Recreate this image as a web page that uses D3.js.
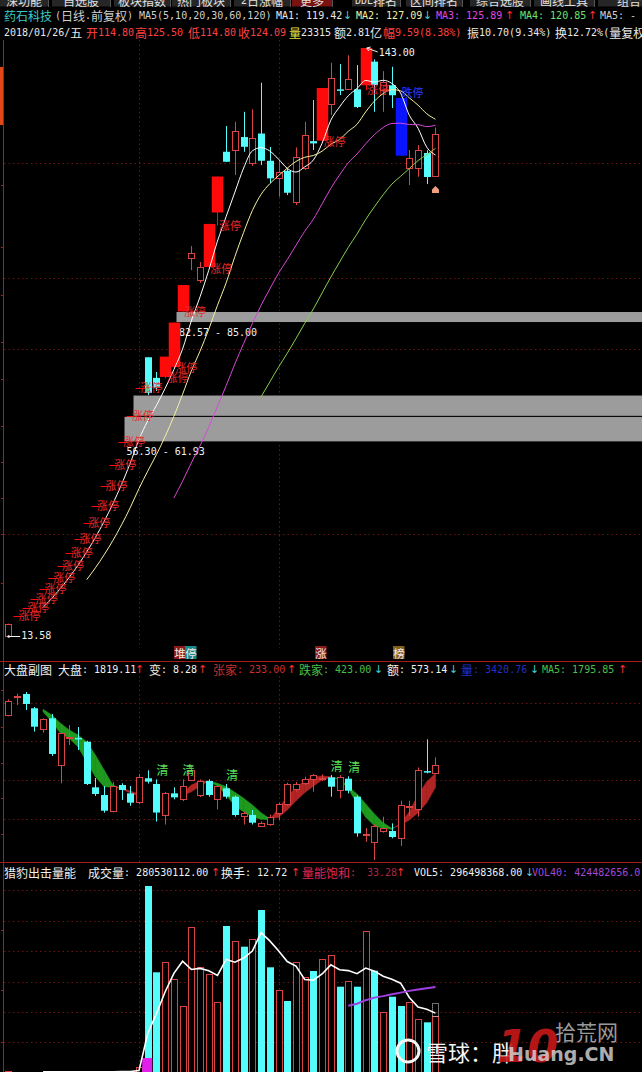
<!DOCTYPE html>
<html>
<head>
<meta charset="utf-8">
<title>药石科技 日线</title>
<script src="https://cdn.jsdelivr.net/npm/d3@7"></script>
<style>
  html, body { margin: 0; padding: 0; background: #000; overflow: hidden; }
  svg { display: block; }
  text { white-space: pre; }
</style>
</head>
<body>
<svg id="chart" width="642" height="1072"></svg>
<script>
// ---------- 药石科技 daily bars (前复权) ----------
const stockOpen  = [13.58, 17.93, 19.72, 21.69, 23.86, 26.25, 28.88, 31.77, 34.95, 38.45, 42.30, 46.53, 51.18, 56.30, 61.93, 68.12,
                    74.93, 70.40, 70.60, 72.80, 85.00, 96.80, 91.90, 94.80, 106.80, 120.16, 120.54, 123.40, 117.70, 124.17,
                    118.18, 114.38, 115.98, 109.16, 116.51, 122.50, 122.60, 130.80, 133.90, 133.90, 133.90, 134.80, 140.00,
                    133.70, 134.80, 132.00, 116.57, 116.57, 119.88, 114.80];
const stockHigh  = [16.30, 17.93, 19.72, 21.69, 23.86, 26.25, 28.88, 31.77, 34.95, 38.45, 42.30, 46.53, 51.18, 56.30, 61.93, 68.12,
                    74.93, 71.70, 75.07, 82.57, 90.83, 99.40, 95.90, 104.28, 114.71, 125.82, 126.76, 128.96, 129.49, 135.35,
                    121.20, 118.33, 116.50, 121.13, 126.76, 131.54, 134.20, 139.75, 139.46, 141.40, 139.24, 143.00, 140.50,
                    137.90, 138.87, 133.00, 120.54, 121.64, 120.50, 125.50];
const stockLow   = [13.58, 17.93, 19.72, 21.69, 23.86, 26.25, 28.88, 31.77, 34.95, 38.45, 42.30, 46.53, 51.18, 56.30, 61.93, 68.12,
                    66.62, 67.50, 70.30, 72.50, 85.00, 94.10, 91.30, 94.40, 103.90, 117.90, 115.04, 120.16, 117.05, 117.24,
                    113.27, 110.26, 110.63, 108.43, 116.13, 120.54, 122.40, 128.24, 132.64, 133.74, 129.78, 133.70, 128.96,
                    128.96, 129.78, 119.30, 112.83, 114.66, 113.05, 114.80];
const stockClose = [16.30, 17.93, 19.72, 21.69, 23.86, 26.25, 28.88, 31.77, 34.95, 38.45, 42.30, 46.53, 51.18, 56.30, 61.93, 68.12,
                    67.10, 68.25, 75.07, 82.57, 90.83, 97.90, 94.80, 104.28, 114.71, 117.96, 124.72, 121.25, 123.18, 118.18,
                    114.31, 115.76, 111.14, 119.06, 123.84, 122.00, 134.20, 136.50, 133.60, 136.10, 130.00, 143.00, 134.84,
                    135.50, 132.60, 119.30, 118.77, 120.54, 114.60, 124.09];
const limitUpDays   = [1, 2, 3, 4, 5, 6, 7, 8, 9, 10, 11, 12, 13, 14, 15, 18, 19, 20, 23, 24, 36, 41];
const limitDownDays = [45];
const maPeriods  = [5, 10, 20, 30];
const maColors   = ["#ffffff", "#f4f0a0", "#d848d8", "#88d050"];
// unfilled price gaps: start bar, lower edge, upper edge, caption
const gapStart   = [13, 14, 19];
const gapLow     = [56.30, 61.93, 82.57];
const gapHigh    = [61.93, 66.62, 85.00];
const gapCaption = ["56.30 - 61.93", "", "82.57 - 85.00"];
const priceTicks = [112.8, 99.2, 88.6, 78.3, 70.1, 59.8, 51.9, 44.0, 36.0, 25.2];
const priceGrid  = [117.7, 92.4, 76.7, 36.0];
const gridDays   = [15, 31];

// ---------- 大盘 (market index) for the same days ----------
const indexOpen  = [1881.6, 1904.5, 1907.9, 1890.0, 1863.7, 1877.5, 1819.1, 1853.5, 1853.0, 1848.2, 1791.2, 1781.6, 1762.0,
                    1794.1, 1783.7, 1772.0, 1802.5, 1795.4, 1756.6, 1783.7, 1776.2, 1800.4, 1781.6, 1799.1, 1776.2, 1790.0,
                    1779.5, 1755.5, 1756.6, 1743.3, 1745.4, 1759.7, 1770.4, 1788.7, 1796.2, 1801.2, 1802.5, 1803.7, 1787.0,
                    1802.0, 1779.5, 1732.5, 1723.3, 1735.8, 1736.6, 1727.4, 1767.5, 1763.6, 1811.5, 1808.7];
const indexHigh  = [1901.2, 1908.3, 1910.4, 1891.6, 1877.5, 1882.9, 1870.4, 1869.1, 1866.6, 1849.5, 1802.9, 1792.9, 1797.9,
                    1796.3, 1792.9, 1807.9, 1812.5, 1801.2, 1785.5, 1791.2, 1801.2, 1816.5, 1801.0, 1801.2, 1795.0, 1795.4,
                    1781.0, 1760.7, 1762.9, 1748.5, 1757.0, 1772.0, 1797.0, 1798.0, 1804.5, 1807.9, 1807.4, 1806.6, 1806.6,
                    1805.0, 1781.0, 1740.4, 1745.0, 1754.5, 1746.2, 1774.5, 1774.5, 1816.0, 1851.2, 1828.7];
const indexLow   = [1880.0, 1894.1, 1887.9, 1860.8, 1859.5, 1830.4, 1796.2, 1844.1, 1837.9, 1794.1, 1780.4, 1759.5, 1760.0,
                    1775.4, 1768.1, 1770.0, 1796.0, 1748.5, 1744.7, 1776.2, 1774.0, 1799.0, 1779.0, 1779.5, 1763.6, 1777.0,
                    1754.5, 1744.7, 1744.7, 1741.6, 1743.1, 1750.4, 1768.0, 1786.0, 1794.0, 1785.7, 1799.1, 1779.5, 1777.5,
                    1783.7, 1729.5, 1723.2, 1700.4, 1734.5, 1727.5, 1717.9, 1755.4, 1754.5, 1808.7, 1808.7];
const indexClose = [1899.5, 1905.0, 1895.4, 1867.0, 1876.2, 1832.9, 1858.7, 1854.5, 1852.0, 1795.4, 1782.9, 1762.0, 1792.9,
                    1787.9, 1772.0, 1803.7, 1798.3, 1759.7, 1784.5, 1778.7, 1792.9, 1812.9, 1799.1, 1781.6, 1792.9, 1779.5,
                    1756.6, 1759.7, 1747.0, 1747.0, 1754.5, 1770.4, 1795.4, 1795.4, 1801.6, 1806.6, 1803.2, 1792.0, 1803.7,
                    1787.0, 1733.7, 1733.3, 1742.9, 1740.0, 1729.1, 1769.1, 1768.2, 1812.9, 1811.0, 1819.11];
// trend ribbon: fast / slow lines (red when fast is above, green when below)
const ribbonFast = [null, null, null, null, 1885.7, 1873.2, 1858.7, 1852.5, 1842.0, 1823.2, 1804.5, 1792.0, 1791.2, 1790.4,
                    1786.6, 1782.9, null, null, null, null, 1783.7, 1794.1, 1799.1, 1798.7, 1792.9, 1781.6, 1767.9, 1760.7,
                    1754.5, 1751.2, 1751.0, 1765.0, 1779.5, 1791.2, 1799.1, 1804.5, 1805.4, 1804.5, 1800.5, 1790.0, 1770.4,
                    1753.7, 1743.2, 1740.0, 1738.7, 1746.2, 1760.7, 1781.6, 1798.2, 1808.7];
const ribbonSlow = [null, null, null, null, 1888.7, 1881.6, 1871.2, 1862.9, 1856.6, 1848.2, 1831.6, 1812.9, 1794.1, 1789.1,
                    1784.1, 1780.4, null, null, null, null, 1780.4, 1785.7, 1792.9, 1799.1, 1796.2, 1792.0, 1785.0, 1777.5,
                    1769.1, 1759.5, 1751.8, 1753.7, 1762.9, 1774.5, 1784.5, 1792.9, 1800.4, 1803.7, 1802.0, 1792.0, 1782.9,
                    1770.4, 1757.9, 1747.0, 1740.0, 1743.7, 1750.4, 1759.5, 1772.0, 1791.2];
const clearDays  = [17, 20, 25, 37, 39];
const indexTicks = [1912.9, 1867.0, 1822.0, 1777.5, 1732.9];
const indexGrid  = [1897.0, 1849.1, 1800.4, 1751.2];

// ---------- turnover (百万元) ----------
const turnover   = [3.2, 0.9, 1.1, 0.8, 1.0, 1.2, 0.9, 1.3, 1.1, 1.5, 1.4, 1.8, 2.1, 2.6, 3.0, 26.0,
                    932.8, 500.0, 550.2, 464.9, 331.0, 725.7, 525.1, 490.0, 349.5, 732.2, 657.0, 628.4, 665.5, 812.4,
                    525.1, 411.2, 356.1, 550.2, 477.9, 506.5, 566.7, 585.3, 427.8, 456.4, 427.8, 708.6, 508.0, 302.4,
                    377.6, 331.0, 349.5, 265.8, 249.2, 280.53];
const energyDay = 16, energyValue = 70;      // 量能 burst marker
const estimateDay = 49, estimateValue = 346; // projected full-day turnover
const volPeriods = [5, 40];
const volColors  = ["#ffffff", "#a040e0"];
const volTicks   = [712.1, 411.2, 150.5];
const volGrid    = [912.7, 758.8, 606.8, 452.9, 302.4, 148.9];

// ---------- layout ----------
const svg = d3.select("#chart");
const N = stockClose.length;
const x = d3.scaleBand().domain(d3.range(N)).range([3.84, 439.84]);
const cx = i => x(i) + x.bandwidth() / 2;
const crisp = v => Math.round(v) + 0.5;

const yP = d3.scaleLinear().domain([13.58, 143]).range([636, 48]);
const yI = d3.scaleLinear().domain([1700, 1920]).range([860.3, 684.3]);
const yV = d3.scaleLinear().domain([0, 1000]).range([1072, 872.6]);

const RED = "#d84444", RED_FILL = "#ff0a0a", CYAN = "#54fcfc", BLUE = "#0a14ff";
const GRID = "#6a1616", AXIS = "#a41c1c";
const MONO = "'DejaVu Sans Mono', 'Liberation Mono', monospace";
const CJK = "'Noto Sans CJK SC', sans-serif";

// mixed CJK / ASCII text, half-width glyphs ~6px, full-width ~12px
function label(g, x0, y0, s, color, opt = {}) {
  const t = g.append("text").attr("x", x0).attr("y", y0).attr("fill", color)
    .attr("dominant-baseline", "central");
  const re = /([\x20-\x7e]+)|([↑↓←]+)|([^\x20-\x7e↑↓←]+)/g;
  let m;
  while ((m = re.exec(s)) !== null) {
    const sp = t.append("tspan").text(m[0]);
    if (m[1]) sp.attr("font-family", MONO).attr("font-size", opt.mono || 10);
    else if (m[2]) sp.attr("font-family", "'DejaVu Sans', sans-serif").attr("font-size", 11);
    else sp.attr("font-family", CJK).attr("font-size", opt.cjk || 12);
  }
  return t;
}

function sma(arr, n) {
  return arr.map((v, i) => i < n - 1 ? null : d3.mean(arr.slice(i - n + 1, i + 1)));
}

// ---------- top tab strip ----------
const tabs = [
  ["深功能", 0, 48], ["自选股", 52, 110], ["板块指数", 114, 170], ["热门板块", 172, 230],
  ["2日涨幅", 234, 290], ["更多", 292, 332], ["DDE排名", 352, 400], ["区间排名", 406, 462],
  ["综合选股", 470, 530], ["画线工具", 534, 594], ["组合", 598, 660]
];
const tabG = svg.append("g");
tabs.forEach(([name, a, b], k) => {
  tabG.append("rect").attr("x", a).attr("y", 0).attr("width", b - a).attr("height", 6.5)
    .attr("fill", k === 5 ? "#7a1212" : "#262626");
  tabG.append("line").attr("x1", crisp(b)).attr("x2", crisp(b)).attr("y1", 0).attr("y2", 7)
    .attr("stroke", "#555");
  label(tabG, (a + b) / 2, -0.5, name, "#e0e0e0").attr("text-anchor", "middle");
});

// ---------- header lines ----------
const head = svg.append("g");
[
  ["药石科技", 4, "#3cc8c8"], ["(日线.前复权)", 55, "#cfcfcf"], ["MA5(5,10,20,30,60,120)", 139, "#cfcfcf"],
  ["MA1: 119.42", 276, "#e8e8e8"], ["↓", 343, "#40d0d0"],
  ["MA2: 127.09", 356, "#f4f0a0"], ["↓", 423, "#40d0d0"],
  ["MA3: 125.89", 436, "#e048e0"], ["↑", 505, "#ff3030"],
  ["MA4: 120.85", 520, "#70e070"], ["↑", 588, "#ff3030"],
  ["MA5: -", 600, "#cfcfcf"]
].forEach(([s, xx, c]) => label(head, xx, 14.5, s, c));
[
  ["2018/01/26/五", 4, "#e8e8e8"], ["开114.80", 86, "#ff4040"], ["高125.50", 135, "#ff4040"],
  ["低114.80", 188, "#ff4040"], ["收124.09", 238, "#ff4040"], ["量", 289, "#e8e040"],
  ["23315", 301, "#e8e8e8"], ["额2.81亿", 334, "#e8e8e8"], ["幅9.59(8.38%)", 383, "#ff4040"],
  ["振10.70(9.34%)", 467, "#e8e8e8"], ["换12.72%(量复权", 555, "#e8e8e8"]
].forEach(([s, xx, c]) => label(head, xx, 31.5, s, c));

// ---------- panel frames ----------
const frame = svg.append("g");
[661.5, 862.5].forEach(yy => frame.append("line").attr("x1", 0).attr("x2", 642)
  .attr("y1", yy).attr("y2", yy).attr("stroke", AXIS));
[[40, 661], [662, 862], [863, 1072]].forEach(([a, b]) => frame.append("line")
  .attr("x1", 3.5).attr("x2", 3.5).attr("y1", a).attr("y2", b).attr("stroke", AXIS));
frame.append("rect").attr("x", 0).attr("y", 67).attr("width", 3).attr("height", 58).attr("fill", "#e0481a");

function axisTicks(scale, values) {
  const g = svg.append("g").attr("transform", "translate(3.5,0)")
    .call(d3.axisLeft(scale).tickValues(values).tickSize(3).tickFormat(""));
  g.select(".domain").remove();
  g.selectAll("line").attr("stroke", AXIS).attr("shape-rendering", "crispEdges");
}
axisTicks(yP, priceTicks);
axisTicks(yI, indexTicks);
axisTicks(yV, volTicks);

function grid(scale, values, y0, y1) {
  const g = svg.append("g").attr("stroke", GRID).attr("stroke-dasharray", "1.5,3");
  values.forEach(v => g.append("line").attr("x1", 4).attr("x2", 642)
    .attr("y1", crisp(scale(v))).attr("y2", crisp(scale(v))));
  gridDays.forEach(i => g.append("line").attr("x1", crisp(cx(i))).attr("x2", crisp(cx(i)))
    .attr("y1", y0).attr("y2", y1));
}
grid(yP, priceGrid, 40, 648);
grid(yI, indexGrid, 676, 862);
grid(yV, volGrid, 880, 1072);

// ---------- main price panel ----------
const main = svg.append("g");
gapStart.forEach((d, k) => {
  main.append("rect").attr("x", Math.round(cx(d) + 2.5)).attr("width", 642)
    .attr("y", yP(gapHigh[k])).attr("height", yP(gapLow[k]) - yP(gapHigh[k]))
    .attr("fill", "#9c9c9c").attr("stroke", "#000").attr("stroke-width", 1);
  if (gapCaption[k]) label(main, cx(d) + 5, yP(gapLow[k]) + 9, gapCaption[k], "#f0f0f0");
});

const bars = d3.range(N).map(i => ({
  i, o: stockOpen[i], h: stockHigh[i], l: stockLow[i], c: stockClose[i],
  up: limitUpDays.includes(i), down: limitDownDays.includes(i)
}));
const candle = main.append("g");
bars.forEach(b => {
  const xc = crisp(cx(b.i));
  const rising = b.c >= b.o;
  let col = rising ? RED : CYAN;
  if (b.up && rising) col = RED_FILL;
  if (b.down) col = BLUE;
  if (b.o === b.c && b.h === b.l) {           // one-price limit day
    candle.append("line").attr("x1", xc - 4).attr("x2", xc + 4)
      .attr("y1", crisp(yP(b.c))).attr("y2", crisp(yP(b.c))).attr("stroke", RED_FILL);
    return;
  }
  candle.append("line").attr("x1", xc).attr("x2", xc).attr("y1", yP(b.h)).attr("y2", yP(b.l))
    .attr("stroke", col);
  const top = yP(Math.max(b.o, b.c)), bot = yP(Math.min(b.o, b.c));
  const wide = (b.up && rising) || b.down;
  const w = wide ? 11.5 : 7;
  if (rising && !wide) {
    candle.append("rect").attr("x", xc - 3).attr("width", 6).attr("y", crisp(top))
      .attr("height", Math.max(1, Math.round(bot - top))).attr("fill", "#000").attr("stroke", col);
  } else {
    candle.append("rect").attr("x", xc - w / 2).attr("width", w).attr("y", top)
      .attr("height", Math.max(1.5, bot - top)).attr("fill", col);
  }
});

// moving averages
maPeriods.forEach((n, k) => {
  const ma = sma(stockClose, n);
  main.append("path").datum(d3.range(N))
    .attr("d", d3.line().defined(i => ma[i] !== null).x(i => cx(i)).y(i => yP(ma[i])).curve(d3.curveMonotoneX))
    .attr("fill", "none").attr("stroke", maColors[k]).attr("stroke-width", 1);
});

// 涨停 / 跌停 tags
bars.filter(b => b.up).forEach(b =>
  label(main, cx(b.i) + 1.5, yP(b.l) - 1, "涨停", "#e82a2a", { cjk: 11 }));
bars.filter(b => b.down).forEach(b =>
  label(main, cx(b.i) + 1, yP(b.h) - 1, "跌停", "#2a3cff", { cjk: 11 }));

// extreme price markers
const hiIdx = d3.maxIndex(stockHigh), loIdx = d3.minIndex(stockLow);
main.append("path").attr("d", `M${cx(hiIdx) + 1},${yP(stockHigh[hiIdx])} l11,4`)
  .attr("stroke", "#f0f0f0").attr("fill", "none");
main.append("path").attr("d", `M${cx(hiIdx) + 1},${yP(stockHigh[hiIdx])} l4,-1 M${cx(hiIdx) + 1},${yP(stockHigh[hiIdx])} l2,3`)
  .attr("stroke", "#f0f0f0").attr("fill", "none");
label(main, cx(hiIdx) + 13, yP(stockHigh[hiIdx]) + 4, stockHigh[hiIdx].toFixed(2), "#f0f0f0");
main.append("path").attr("d", `M${cx(loIdx)},${yP(stockLow[loIdx]) + 0.5} h12`)
  .attr("stroke", "#f0f0f0").attr("fill", "none");
main.append("circle").attr("cx", cx(loIdx) + 0.5).attr("cy", yP(stockLow[loIdx]) + 0.5).attr("r", 1.3).attr("fill", "#f0f0f0");
label(main, cx(loIdx) + 13, yP(stockLow[loIdx]) - 1, stockLow[loIdx].toFixed(2), "#f0f0f0");

// last-bar marker
{
  const xl = cx(N - 1), yl = yP(stockLow[N - 1]) + 10;
  main.append("path").attr("d", `M${xl},${yl} l3.5,3.5 v3.5 h-7 v-3.5 z`).attr("fill", "#f0a080");
}

// ---------- 大盘副图 ----------
const sub = svg.append("g");
[["堆", 174, "#8a1a1a"], ["停", 185, "#148a8a"], ["涨", 315, "#8a1a1a"], ["榜", 393, "#80601e"]]
  .forEach(([s, xx, bg]) => {
    sub.append("rect").attr("x", xx).attr("y", 646).attr("width", 11.5).attr("height", 13).attr("fill", bg);
    label(sub, xx + 0.3, 652.5, s, "#f4e8e8", { cjk: 11.5 });
  });
[
  ["大盘副图 大盘: 1819.11", 4, "#f0f0f0"], ["↑", 135, "#ff3030"],
  ["变: 8.28", 149, "#f0f0f0"], ["↑", 198, "#ff3030"],
  ["张家: 233.00", 213, "#c83030"], ["↑", 287, "#ff3030"],
  ["跌家: 423.00", 299, "#48c048"], ["↓", 374, "#40d0d0"],
  ["额: 573.14", 387, "#f0f0f0"], ["↓", 449, "#40d0d0"],
  ["量: 3420.76", 461, "#2030c8"], ["↓", 530, "#40d0d0"],
  ["MA5: 1795.85", 542, "#48c048"], ["↑", 618, "#ff3030"]
].forEach(([s, xx, c]) => label(sub, xx, 668.5, s, c));

// trend ribbon
const ribbon = sub.append("g");
for (let i = 0; i < N - 1; i++) {
  const a = ribbonFast[i], b = ribbonSlow[i], a2 = ribbonFast[i + 1], b2 = ribbonSlow[i + 1];
  if (a === null || b === null || a2 === null || b2 === null) continue;
  const x1 = cx(i), x2 = cx(i + 1), d1 = a - b, d2 = a2 - b2;
  const poly = (pts, up) => ribbon.append("path").attr("d", d3.line()(pts) + "Z")
    .attr("fill", up ? "#b02424" : "#1f9a1f").attr("stroke", up ? "#b02424" : "#1f9a1f").attr("stroke-width", 0.6);
  if (d1 * d2 >= 0) {
    poly([[x1, yI(a)], [x2, yI(a2)], [x2, yI(b2)], [x1, yI(b)]], d1 + d2 > 0);
  } else {
    const t = d1 / (d1 - d2), xm = x1 + t * (x2 - x1), vm = a + t * (a2 - a);
    poly([[x1, yI(a)], [xm, yI(vm)], [x1, yI(b)]], d1 > 0);
    poly([[xm, yI(vm)], [x2, yI(a2)], [x2, yI(b2)]], d2 > 0);
  }
}

// index candles
const subC = sub.append("g");
d3.range(N).forEach(i => {
  const o = indexOpen[i], c = indexClose[i], h = indexHigh[i], l = indexLow[i];
  const xc = crisp(cx(i)), rising = c >= o, col = rising ? RED : CYAN;
  subC.append("line").attr("x1", xc).attr("x2", xc).attr("y1", yI(h)).attr("y2", yI(l)).attr("stroke", col);
  const top = yI(Math.max(o, c)), bot = yI(Math.min(o, c));
  if (rising) {
    subC.append("rect").attr("x", xc - 3).attr("width", 6).attr("y", crisp(top))
      .attr("height", Math.max(1, Math.round(bot - top))).attr("fill", "#000").attr("stroke", col);
  } else {
    subC.append("rect").attr("x", xc - 3.5).attr("width", 7).attr("y", top)
      .attr("height", Math.max(1.5, bot - top)).attr("fill", col);
  }
});
clearDays.forEach(i => label(sub, cx(i), yI(indexHigh[i]) - 10, "清", "#58e058"));

// ---------- 猎豹出击量能 ----------
const vol = svg.append("g");
[
  ["猎豹出击量能  成交量: 280530112.00", 4, "#f0f0f0"], ["↑", 211, "#ff3030"],
  ["换手: 12.72", 221, "#f0f0f0"], ["↑", 291, "#ff3030"],
  ["量能饱和:", 302, "#e02858"], ["33.28", 367, "#a82848"], ["↑", 396, "#ff3030"],
  ["VOL5: 296498368.00", 414, "#f0f0f0"], ["↓", 525, "#40d0d0"],
  ["VOL40: 424482656.0", 532, "#a048d8"]
].forEach(([s, xx, c]) => label(vol, xx, 871.5, s, c));

d3.range(N).forEach(i => {
  const xc = crisp(cx(i)), rising = stockClose[i] >= stockOpen[i];
  const top = yV(turnover[i]);
  if (rising) {
    vol.append("rect").attr("x", xc - 3).attr("width", 6).attr("y", crisp(top))
      .attr("height", 1080 - top).attr("fill", "#000").attr("stroke", RED);
  } else {
    vol.append("rect").attr("x", xc - 3.5).attr("width", 7).attr("y", top)
      .attr("height", 1080 - top).attr("fill", CYAN);
  }
});
vol.append("rect").attr("x", cx(energyDay) - 5.5).attr("width", 10).attr("y", yV(energyValue))
  .attr("height", 1080 - yV(energyValue)).attr("fill", "#e020e8");
vol.append("rect").attr("x", crisp(cx(estimateDay)) - 3).attr("width", 6)
  .attr("y", crisp(yV(estimateValue))).attr("height", yV(turnover[estimateDay]) - yV(estimateValue))
  .attr("fill", "none").attr("stroke", "#e0e0e0").attr("stroke-dasharray", "1,1");

volPeriods.forEach((n, k) => {
  const ma = sma(turnover, n);
  vol.append("path").datum(d3.range(N))
    .attr("d", d3.line().defined(i => ma[i] !== null).x(i => cx(i)).y(i => yV(ma[i])))
    .attr("fill", "none").attr("stroke", volColors[k]).attr("stroke-width", k ? 2 : 1.6);
});

// ---------- watermark ----------
const wm = svg.append("g");
wm.append("circle").attr("cx", 408).attr("cy", 1051).attr("r", 11).attr("fill", "none")
  .attr("stroke", "#f4f4f4").attr("stroke-width", 3);
wm.append("text").attr("x", 426).attr("y", 1061).attr("font-family", CJK).attr("font-size", 22)
  .attr("fill", "#f4f4f4").text("雪球：胖");
wm.append("text").attr("x", 497).attr("y", 1062).attr("font-family", "'DejaVu Sans', sans-serif")
  .attr("font-weight", "bold").attr("font-style", "italic").attr("font-size", 44)
  .attr("fill", "#c81818").attr("opacity", 0.9).text("10");
wm.append("text").attr("x", 555).attr("y", 1040).attr("font-family", CJK).attr("font-size", 21)
  .attr("fill", "#b4b4b4").attr("opacity", 0.85).text("拾荒网");
wm.append("text").attr("x", 508).attr("y", 1061).attr("font-family", "'DejaVu Sans', sans-serif")
  .attr("font-weight", "bold").attr("font-size", 19).attr("fill", "#d8d8d8").attr("opacity", 0.8).text("Huang.CN");
</script>
</body>
</html>
